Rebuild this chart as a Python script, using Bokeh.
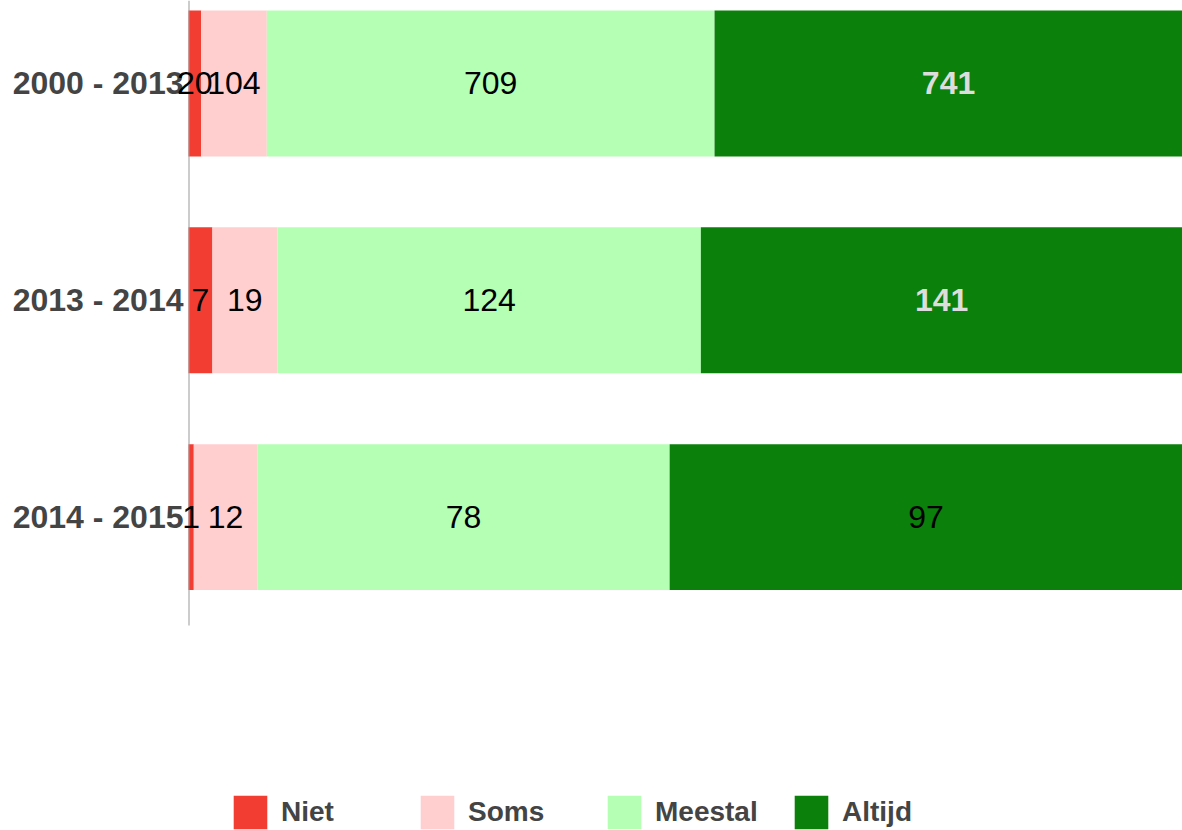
from bokeh.plotting import figure
from bokeh.models import ColumnDataSource, Range1d, Legend, LegendItem
from bokeh.core.properties import value
from bokeh.embed import file_html
from bokeh.resources import INLINE

# ---- data ----
periods = ["2000 - 2013", "2013 - 2014", "2014 - 2015"]
answers = ["Niet", "Soms", "Meestal", "Altijd"]
niet = [20, 7, 1]
soms = [104, 19, 12]
meestal = [709, 124, 78]
altijd = [741, 141, 97]

# ---- styles ----
colors = ["#f23d32", "#ffcfcf", "#b5ffb5", "#0b800b"]
FONT = "Liberation Sans"
altijd_label_highlight = [True, True, False]

counts = [niet, soms, meestal, altijd]
n = len(periods)
totals = [sum(c[i] for c in counts) for i in range(n)]
ypos = list(range(n))

src = dict(y=ypos)
for name, c in zip(answers, counts):
    src[name] = [v / t for v, t in zip(c, totals)]
source = ColumnDataSource(src)

# ---- layout ----
W, H = 1182, 830
LEFT_PX = 188          # where the value axis starts
AREA_PX = 625          # height of the category area
TOP = -0.3825
AREA_BOTTOM = n - 0.5
units_per_px_y = (AREA_BOTTOM - TOP) / AREA_PX
BOTTOM = TOP + H * units_per_px_y
units_per_px_x = 1.0 / (W - LEFT_PX)
X_START = -LEFT_PX * units_per_px_x

p = figure(width=W, height=H,
           x_range=Range1d(X_START, 1), y_range=Range1d(BOTTOM, TOP),
           output_backend="svg", toolbar_location=None,
           x_axis_location=None, y_axis_location=None,
           min_border_left=0, min_border_right=0,
           min_border_top=0, min_border_bottom=0)
p.outline_line_color = None
p.grid.visible = False
p.background_fill_color = "white"

# category labels
p.text(x=[0] * n, y=ypos, text=periods, text_align="right", text_baseline="middle",
       x_offset=-5, text_color="#444444", text_font=value(FONT),
       text_font_size=value("32px"), text_font_style="bold")

renderers = p.hbar_stack(answers, y="y", height=0.673, color=colors,
                         line_color=None, source=source)

# axis line (only along the category area)
ax_x = 0.5 * units_per_px_x
p.segment(x0=ax_x, y0=TOP, x1=ax_x, y1=AREA_BOTTOM, line_color="#999999", line_width=1)

# value labels
lx, ly, lt, lc, ls = [], [], [], [], []
for i in range(n):
    left = 0.0
    for k, name in enumerate(answers):
        w = src[name][i]
        lx.append(left + w / 2)
        ly.append(ypos[i])
        lt.append(str(counts[k][i]))
        if name == "Altijd" and altijd_label_highlight[i]:
            lc.append("#dddddd")
            ls.append("bold")
        else:
            lc.append("#000000")
            ls.append("normal")
        left += w
lsrc = ColumnDataSource(dict(x=lx, y=ly, text=lt, color=lc, style=ls))
p.text(x="x", y="y", text="text", text_color="color", text_font_style="style",
       text_align="center", text_baseline="middle",
       text_font=value(FONT), text_font_size=value("32px"), source=lsrc)

legend = Legend(items=[LegendItem(label=a, renderers=[r]) for a, r in zip(answers, renderers)],
                orientation="horizontal", location=(LEFT_PX + 41, -3),
                padding=0, spacing=0, margin=0,
                glyph_width=42, glyph_height=42, label_standoff=10, label_width=135,
                label_text_font=FONT, label_text_font_size="28px",
                label_text_font_style="bold", label_text_color="#444444",
                border_line_color=None, background_fill_alpha=0)
p.add_layout(legend, "center")

open("out.html", "w").write(file_html(p, INLINE))
